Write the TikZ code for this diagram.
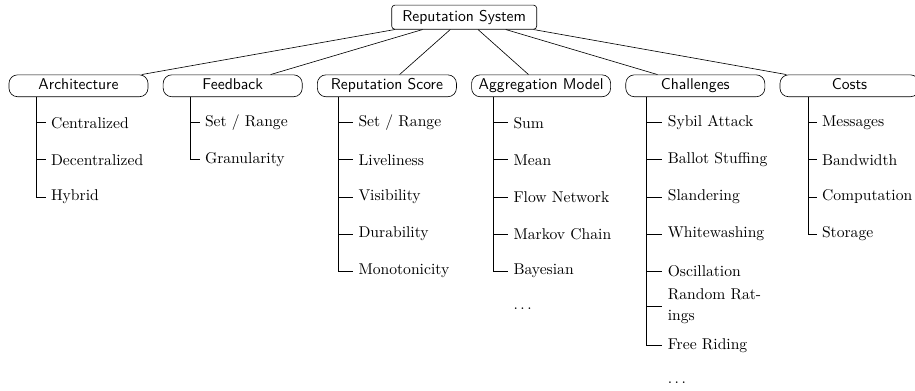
\documentclass[tikz,border=0pt]{standalone}
\begin{document}
\begin{tikzpicture}[x=0.64pt,y=-0.64pt,
  rootbox/.style={draw, rounded corners=2pt, font=\sffamily, minimum width=92.8pt, minimum height=15.4pt, inner sep=0pt, text height=7pt, text depth=2pt},
  catbox/.style={draw, rounded corners=5.5pt, font=\sffamily, minimum width=89pt, minimum height=14pt, inner sep=0pt, text height=7pt, text depth=2pt},
  leaf/.style={anchor=west, inner sep=0.333em},
  link/.style={draw, line width=0.4pt}]
\useasboundingbox (0,0) rectangle (915,391);

\node[rootbox] (rs) at (464.2,17.2) {Reputation System};

\node[catbox] (arch) at (78.5,85.8) {Architecture};
\node[catbox] (feed) at (232.7,85.8) {Feedback};
\node[catbox] (score) at (386.9,85.8) {Reputation Score};
\node[catbox] (aggr) at (541.1,85.8) {Aggregation Model};
\node[catbox] (chal) at (695.3,85.8) {Challenges};
\node[catbox] (cost) at (849.5,85.8) {Costs};

\foreach \c in {arch,feed,score,aggr,chal,cost}
  \draw[link] (rs) -- (\c);

% Architecture
\node[leaf] (a1) at (45.5,122.7) {Centralized};
\node[leaf] (a2) at (45.5,159.8) {Decentralized};
\node[leaf] (a3) at (45.5,196.9) {Hybrid};
\path (arch.south west) ++(27.7,0) coordinate (av);
\foreach \n in {a1,a2,a3} \draw[link] (av) |- (\n.west);

% Feedback
\node[leaf] (f1) at (199.5,122.7) {Set / Range};
\node[leaf] (f2) at (199.5,159.8) {Granularity};
\path (feed.south west) ++(27.7,0) coordinate (fv);
\foreach \n in {f1,f2} \draw[link] (fv) |- (\n.west);

% Reputation Score
\node[leaf] (r1) at (353,122.7) {Set / Range};
\node[leaf] (r2) at (353,159.8) {Liveliness};
\node[leaf] (r3) at (353,196.9) {Visibility};
\node[leaf] (r4) at (353,234.0) {Durability};
\node[leaf] (r5) at (353,271.1) {Monotonicity};
\path (score.south west) ++(21.3,0) coordinate (rv);
\foreach \n in {r1,r2,r3,r4,r5} \draw[link] (rv) |- (\n.west);

% Aggregation Model
\node[leaf] (g1) at (508,122.7) {Sum};
\node[leaf] (g2) at (508,159.8) {Mean};
\node[leaf] (g3) at (508,196.9) {Flow Network};
\node[leaf] (g4) at (508,234.0) {Markov Chain};
\node[leaf] (g5) at (508,271.1) {Bayesian};
\node[leaf] (g6) at (508,308.2) {$\ldots$};
\path (aggr.south west) ++(22,0) coordinate (gv);
\foreach \n in {g1,g2,g3,g4,g5} \draw[link] (gv) |- (\n.west);

% Challenges
\node[leaf] (c1) at (662.3,122.7) {Sybil Attack};
\node[leaf] (c2) at (662.3,159.8) {Ballot Stuffing};
\node[leaf] (c3) at (662.3,196.9) {Slandering};
\node[leaf] (c4) at (662.3,234.0) {Whitewashing};
\node[leaf] (c5) at (662.3,271.1) {Oscillation};
\node[leaf, align=left] (c6) at (662.3,306.5) {Random Rat-\\[1.3pt]ings};
\node[leaf] (c7) at (662.3,345.3) {Free Riding};
\node[leaf] (c8) at (662.3,382.6) {$\ldots$};
\path (chal.south west) ++(20.7,0) coordinate (cv);
\foreach \n in {c1,c2,c3,c4,c5,c6,c7} \draw[link] (cv) |- (\n.west);

% Costs
\node[leaf] (k1) at (816.5,122.7) {Messages};
\node[leaf] (k2) at (816.5,159.8) {Bandwidth};
\node[leaf] (k3) at (816.5,196.9) {Computation};
\node[leaf] (k4) at (816.5,234.0) {Storage};
\path (cost.south west) ++(28.3,0) coordinate (kv);
\foreach \n in {k1,k2,k3,k4} \draw[link] (kv) |- (\n.west);
\end{tikzpicture}
\end{document}
